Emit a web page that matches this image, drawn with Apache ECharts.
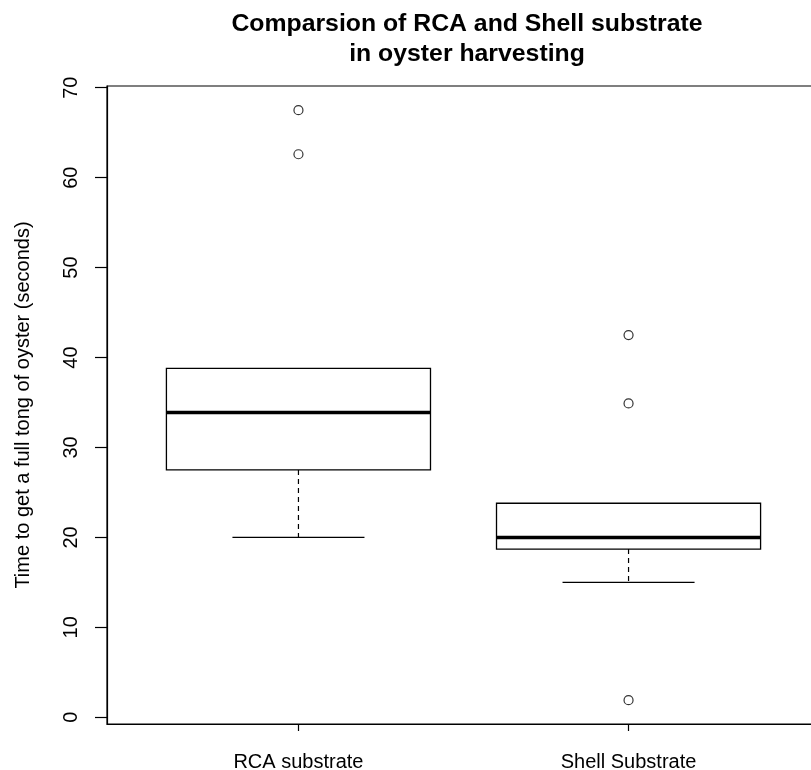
<!DOCTYPE html>
<html>
<head>
<meta charset="utf-8">
<script src="https://cdn.jsdelivr.net/npm/echarts@6/dist/echarts.min.js"></script>
<style>html,body{margin:0;padding:0;background:#fff;}#c{width:811px;height:770px;}</style>
</head>
<body>
<div id="c"></div>
<script>
const categories = ['RCA substrate', 'Shell Substrate'];
const positions = [1, 2];
const whiskerLow = [20.0, 15.0];
const q1 = [27.5, 18.7];
const median = [33.9, 20.0];
const q3 = [38.8, 23.8];
const whiskerHigh = [38.8, 23.8];
const outliers = [[62.6, 67.5], [42.5, 34.9, 1.9]];
const yTicks = [0, 10, 20, 30, 40, 50, 60, 70];

const FONT = 'Liberation Sans, Arial, sans-serif';

const boxData = positions.map((p, i) => [p, whiskerLow[i], q1[i], median[i], q3[i], whiskerHigh[i]]);
const outlierData = [];
outliers.forEach((arr, i) => arr.forEach(v => outlierData.push([positions[i], v])));

function renderBox(params, api) {
  const x = api.value(0), lo = api.value(1), a = api.value(2), m = api.value(3), b = api.value(4), hi = api.value(5);
  const hw = 0.4, cw = 0.2;
  const tl = api.coord([x - hw, b]);
  const br = api.coord([x + hw, a]);
  const children = [];
  children.push({type: 'rect', shape: {x: tl[0], y: tl[1], width: br[0] - tl[0], height: br[1] - tl[1]},
    style: {fill: '#fff', stroke: '#000', lineWidth: 1.3}});
  const m1 = api.coord([x - hw, m]), m2 = api.coord([x + hw, m]);
  children.push({type: 'line', shape: {x1: m1[0], y1: m1[1], x2: m2[0], y2: m2[1]}, style: {stroke: '#000', lineWidth: 3.5}});
  if (lo < a) {
    const w1 = api.coord([x, a]), w2 = api.coord([x, lo]);
    children.push({type: 'line', shape: {x1: w1[0], y1: w1[1], x2: w2[0], y2: w2[1]}, style: {stroke: '#000', lineWidth: 1.2, lineDash: [5, 4]}});
    const c1 = api.coord([x - cw, lo]), c2 = api.coord([x + cw, lo]);
    children.push({type: 'line', shape: {x1: c1[0], y1: c1[1], x2: c2[0], y2: c2[1]}, style: {stroke: '#000', lineWidth: 1.3}});
  }
  if (hi > b) {
    const w1 = api.coord([x, b]), w2 = api.coord([x, hi]);
    children.push({type: 'line', shape: {x1: w1[0], y1: w1[1], x2: w2[0], y2: w2[1]}, style: {stroke: '#000', lineWidth: 1.2, lineDash: [5, 4]}});
    const c1 = api.coord([x - cw, hi]), c2 = api.coord([x + cw, hi]);
    children.push({type: 'line', shape: {x1: c1[0], y1: c1[1], x2: c2[0], y2: c2[1]}, style: {stroke: '#000', lineWidth: 1.3}});
  }
  return {type: 'group', children};
}

const chart = echarts.init(document.getElementById('c'), null, {renderer: 'canvas'});
chart.setOption({
  animation: false,
  backgroundColor: '#fff',
  textStyle: {fontFamily: FONT},
  title: {
    text: 'Comparsion of RCA and Shell substrate\nin oyster harvesting',
    left: 462, top: 4, textAlign: 'center',
    textStyle: {fontFamily: FONT, fontSize: 24.8, fontWeight: 'bold', color: '#000', lineHeight: 30}
  },
  grid: {left: 107, top: 86, right: -9, bottom: 46, show: true, borderColor: '#000', borderWidth: 1.2,
    backgroundColor: 'transparent', outerBoundsMode: 'none', containLabel: false},
  xAxis: {
    type: 'value', min: 0.42, max: 2.58,
    splitLine: {show: false},
    axisLine: {show: true, onZero: false, lineStyle: {color: '#000', width: 1.2}},
    axisTick: {show: true, customValues: positions, length: 7, lineStyle: {color: '#000', width: 1.2}},
    axisLabel: {customValues: positions, formatter: v => categories[positions.indexOf(v)] || '', fontSize: 20, fontFamily: FONT, color: '#000', margin: 28}
  },
  yAxis: {
    type: 'value', min: -0.745, max: 70.19,
    splitLine: {show: false},
    axisLine: {show: true, onZero: false, lineStyle: {color: '#000', width: 1.2}},
    axisTick: {show: true, customValues: yTicks, length: 12, lineStyle: {color: '#000', width: 1.2}},
    axisLabel: {customValues: yTicks, rotate: 90, fontSize: 20, fontFamily: FONT, color: '#000', margin: 26},
    name: 'Time to get a full tong of oyster (seconds)',
    nameLocation: 'middle', nameGap: 74,
    nameTextStyle: {fontSize: 20, fontFamily: FONT, color: '#000'}
  },
  series: [
    {type: 'custom', renderItem: renderBox, data: boxData, encode: {x: 0, y: [1, 2, 3, 4, 5]}, z: 2},
    {type: 'scatter', data: outlierData, symbol: 'circle', symbolSize: 9,
     itemStyle: {color: '#fff', borderColor: '#000', borderWidth: 1.2}, z: 3}
  ]
});
</script>
</body>
</html>
